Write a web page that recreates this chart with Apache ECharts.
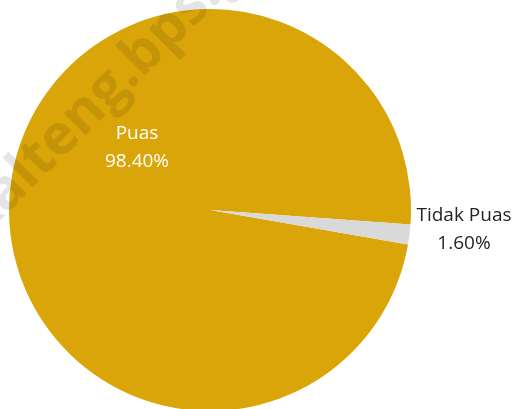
<!DOCTYPE html>
<html>
<head>
<meta charset="utf-8">
<script src="https://cdn.jsdelivr.net/npm/echarts@6/dist/echarts.min.js"></script>
<style>
html,body{margin:0;padding:0;background:#fff;}
#chart{width:518px;height:409px;}
</style>
</head>
<body>
<div id="chart"></div>
<script>
const categories = ['Puas', 'Tidak Puas'];
const values = [98.40, 1.60];
const colors = ['#DAA508', '#D9D9D9'];
const watermark = 'kalteng.bps.go.id';

const chart = echarts.init(document.getElementById('chart'), null, {renderer: 'canvas'});
const FONT = '"Open Sans", "Noto Sans", sans-serif';

chart.setOption({
  animation: false,
  series: [{
    type: 'pie',
    center: [210, 210],
    radius: [0, 201],
    startAngle: -9.9,
    clockwise: true,
    avoidLabelOverlap: false,
    emphasis: {disabled: true},
    labelLine: {show: false},
    data: categories.map((c, i) => ({
      name: c,
      value: values[i],
      itemStyle: {color: colors[i]},
      label: i === 0 ? {
        show: true, position: 'inside',
        color: '#FFFFFF'
      } : {
        show: true, position: 'outside',
        color: '#252423'
      }
    })),
    label: {
      fontFamily: FONT,
      fontSize: 19,
      lineHeight: 28,
      formatter: p => p.name + '\n' + p.value.toFixed(2) + '%'
    },
    labelLayout: function (p) {
      if (p.dataIndex === 0) {
        return {x: 137, y: 148, align: 'center', verticalAlign: 'middle'};
      }
      return {x: 464, y: 230, align: 'center', verticalAlign: 'middle'};
    }
  }],
  graphic: [{
    type: 'text',
    x: -30,
    y: 228,
    rotation: Math.PI / 4,
    silent: true,
    z: 100,
    style: {
      text: watermark,
      fontFamily: FONT,
      fontWeight: 'bold',
      fontSize: 56,
      fill: 'rgba(0,0,0,0.1)',
      textAlign: 'left',
      textVerticalAlign: 'middle'
    }
  }]
});
</script>
</body>
</html>
